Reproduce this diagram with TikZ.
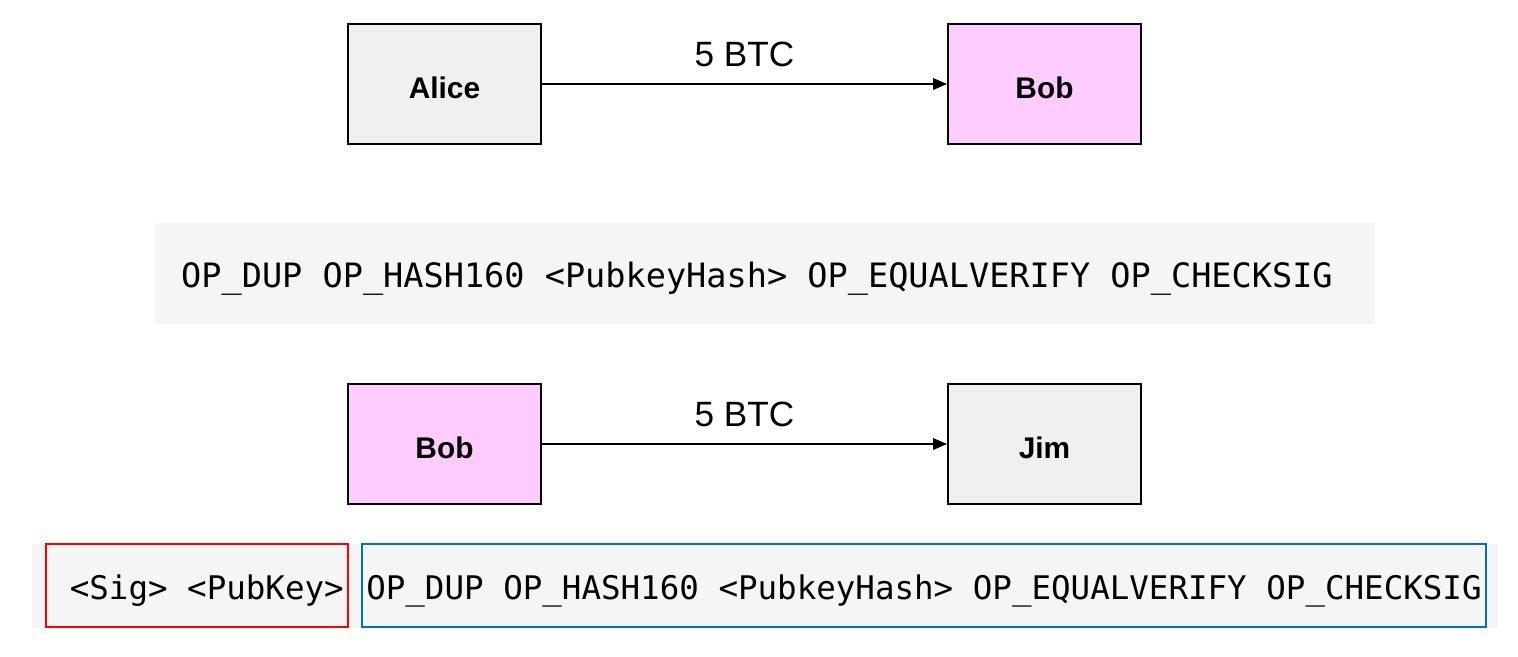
\documentclass[tikz,border=0pt]{standalone}
\usepackage{fontspec}
\setmainfont{Liberation Sans}
\setmonofont{DejaVu Sans Mono}
\usepackage{xcolor}
\definecolor{boxgray}{RGB}{240,240,240}
\definecolor{boxpink}{RGB}{255,204,255}
\definecolor{codegray}{RGB}{245,245,245}
\definecolor{sigred}{RGB}{255,0,0}
\definecolor{lockblue}{RGB}{0,112,192}
\usepackage{tikz}
\usetikzlibrary{arrows.meta, positioning}

\begin{document}
\begin{tikzpicture}[x=0.02cm, y=-0.02cm,
        party/.style={rectangle, draw=black, line width=1pt, fill=#1, minimum width=3.86cm, minimum height=2.4cm, text height=17pt, text depth=0pt, font=\fontsize{17}{20}\selectfont\bfseries},
        arrow/.style={-{Triangle[length=8pt, width=6.5pt]}, line width=1pt},
        amount/.style={font=\fontsize{20}{24}\selectfont, above=0.2cm},
        band/.style={rectangle, fill=codegray, inner sep=0pt},
        script/.style={rectangle, draw=#1, line width=0.9pt, inner sep=0pt, minimum height=1.66cm, text height=18pt, text depth=1.8pt, font=\ttfamily\fontsize{18.5}{22}\selectfont}
    ]
        \useasboundingbox (0,0) rectangle (1518,656);

        % first transaction
        \node[party=boxgray] (alice) at (444.5, 84) {Alice};
        \node[party=boxpink] (bob) at (1044.5, 84) {Bob};
        \draw[arrow] (alice) -- node[amount] (amount1) {5 BTC} (bob);

        % locking script
        \node[band, minimum width=24.38cm, minimum height=2.02cm] (lockbg) at (764.5, 273.5) {};
        \node[font=\ttfamily\fontsize{19.1}{23}\selectfont, inner sep=0pt] (lock) at (757, 279) {OP\_DUP OP\_HASH160 <PubkeyHash> OP\_EQUALVERIFY OP\_CHECKSIG};

        % second transaction
        \node[party=boxpink] (bob2) at (444.5, 444) {Bob};
        \node[party=boxgray] (jim) at (1044.5, 444) {Jim};
        \draw[arrow] (bob2) -- node[amount] (amount2) {5 BTC} (jim);

        % unlocking + locking script
        \node[band, minimum width=29.32cm, minimum height=1.68cm] (codebg) at (765, 586) {};
        \node[script=sigred, minimum width=6.04cm] (sig) at (197, 585.5) {\ <Sig> <PubKey>};
        \node[script=lockblue, minimum width=22.48cm] (pubkey) at (924, 585.5) {OP\_DUP OP\_HASH160 <PubkeyHash> OP\_EQUALVERIFY OP\_CHECKSIG};
    \end{tikzpicture}
\end{document}
